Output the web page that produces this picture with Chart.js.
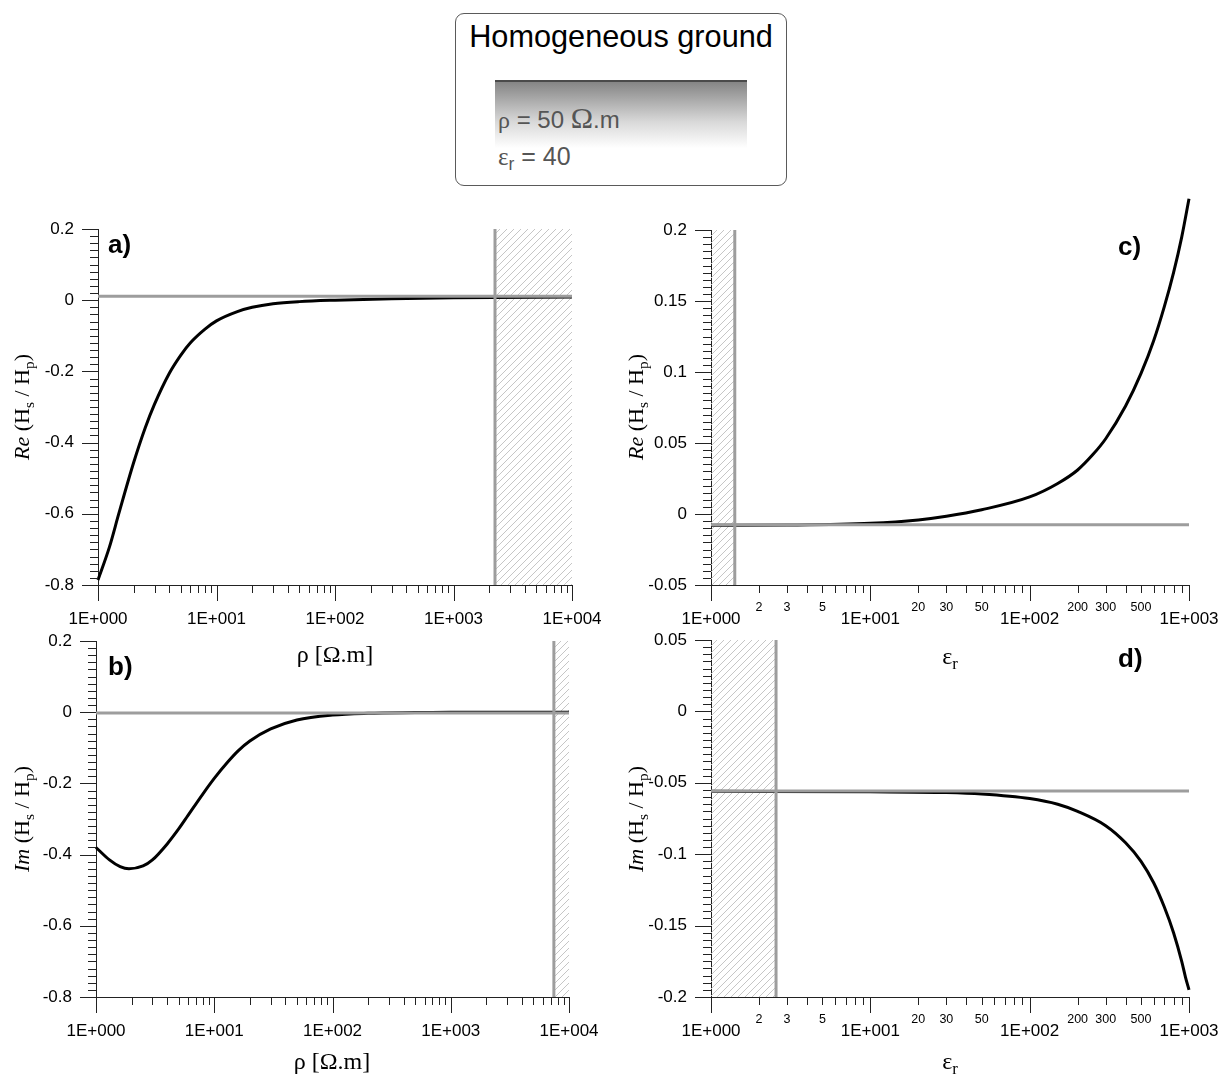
<!DOCTYPE html>
<html>
<head>
<meta charset="utf-8">
<script src="https://cdn.jsdelivr.net/npm/chart.js@4.4.1/dist/chart.umd.min.js"></script>
<style>
  body { margin: 0; width: 1218px; height: 1080px; position: relative; background: #fff; overflow: hidden; font-family: "Liberation Sans", Arial, sans-serif; }
  canvas { position: absolute; }
  #legend { position: absolute; left: 455px; top: 13px; width: 332px; height: 173px; border: 1px solid #5a5a5a; border-radius: 9px; box-sizing: border-box; }
  #legend .ttl { position: absolute; left: 0; right: 0; top: 5px; text-align: center; font-size: 30.7px; color: #000; }
  #legend .bar { position: absolute; left: 39px; top: 66px; width: 252px; height: 66px; border-top: 2px solid #4a4a4a; background: linear-gradient(#858585, #d8d8d8 60%, #fff); }
  #legend .l1 { position: absolute; left: 42px; top: 87px; font-size: 24px; color: #555; }
  #legend .l2 { position: absolute; left: 42px; top: 128px; font-size: 25px; color: #555; }
  .om { font-family: "Liberation Serif", serif; font-size: 30px; }
  .ser { font-family: "Liberation Serif", serif; }
  sub { font-size: 70%; vertical-align: -0.3em; line-height: 0; }
  .ytl { position: absolute; white-space: nowrap; transform: translate(-50%, -50%) rotate(-90deg); font-family: "Liberation Serif", serif; font-size: 22px; color: #000; }
  .xtl { position: absolute; white-space: nowrap; transform: translate(-50%, -50%); font-family: "Liberation Serif", serif; font-size: 24px; color: #000; }
  .pl { position: absolute; font-weight: bold; font-size: 26px; color: #000; transform: translateY(-50%); }
</style>
</head>
<body>

<div id="legend">
  <div class="ttl">Homogeneous ground</div>
  <div class="bar"></div>
  <div class="l1"><span class="ser">ρ</span> = 50 <span class="om">Ω</span>.m</div>
  <div class="l2"><span class="ser">ε</span><sub>r</sub> = 40</div>
</div>

<canvas id="chartA" width="610" height="480" style="left:0;top:190px"></canvas>
<canvas id="chartB" width="610" height="480" style="left:0;top:600px"></canvas>
<canvas id="chartC" width="608" height="480" style="left:610px;top:190px"></canvas>
<canvas id="chartD" width="608" height="480" style="left:610px;top:600px"></canvas>

<div class="pl" style="left:108px;top:244px">a)</div>
<div class="pl" style="left:108px;top:666px">b)</div>
<div class="pl" style="left:1118px;top:246px">c)</div>
<div class="pl" style="left:1118px;top:658px">d)</div>

<div class="ytl" style="left:22px;top:407px"><i>Re</i> (H<sub>s</sub> / H<sub>p</sub>)</div>
<div class="ytl" style="left:22px;top:819px"><i>Im</i> (H<sub>s</sub> / H<sub>p</sub>)</div>
<div class="ytl" style="left:636px;top:407px"><i>Re</i> (H<sub>s</sub> / H<sub>p</sub>)</div>
<div class="ytl" style="left:636px;top:819px"><i>Im</i> (H<sub>s</sub> / H<sub>p</sub>)</div>

<div class="xtl" style="left:335px;top:654px">ρ&nbsp;[Ω.m]</div>
<div class="xtl" style="left:332px;top:1061px">ρ&nbsp;[Ω.m]</div>
<div class="xtl" style="left:950px;top:656px">ε<sub>r</sub></div>
<div class="xtl" style="left:950px;top:1061px">ε<sub>r</sub></div>

<script>
// --- data ---
const rhoTicks = [1, 10, 100, 1000, 10000];
const epsTicks = [1, 2, 3, 5, 10, 20, 30, 50, 100, 200, 300, 500, 1000];
const reTicks = [-0.8, -0.6, -0.4, -0.2, 0, 0.2];
const reCTicks = [-0.05, 0, 0.05, 0.1, 0.15, 0.2];
const imDTicks = [-0.2, -0.15, -0.1, -0.05, 0, 0.05];

// a) Re vs rho
const rhoA = [1, 1.25, 1.5, 2, 2.5, 3, 4, 5, 6, 8, 10, 15, 20, 30, 50, 100, 300, 1000, 10000];
const reA = [-0.786, -0.693, -0.599, -0.456, -0.359, -0.292, -0.205, -0.154, -0.12, -0.081, -0.058, -0.032, -0.02, -0.01, -0.004, 0.0, 0.004, 0.007, 0.009];
const refA = 0.011, limA = 2240;

// b) Im vs rho
const rhoB = [1, 1.3, 1.6, 1.9, 2.5, 3, 4, 5, 6, 8, 10, 13, 16, 20, 30, 50, 100, 200, 500, 1000, 10000];
const imB = [-0.38, -0.415, -0.434, -0.44, -0.432, -0.415, -0.37, -0.328, -0.29, -0.23, -0.186, -0.14, -0.108, -0.081, -0.047, -0.022, -0.008, -0.003, -0.001, 0.0, 0.0];
const refB = -0.002, limB = 7450;

// c) Re vs eps_r
const epsC = [1, 3, 10, 20, 30, 50, 100, 150, 200, 250, 300, 400, 500, 600, 700, 800, 900, 1000];
const reC = [-0.008, -0.0078, -0.0066, -0.0042, -0.0016, 0.003, 0.012, 0.0215, 0.031, 0.042, 0.053, 0.076, 0.099, 0.122, 0.146, 0.17, 0.195, 0.222];
const refC = -0.0075, limC = 1.41;

// d) Im vs eps_r
const epsD = [1, 10, 30, 50, 100, 150, 200, 300, 400, 500, 600, 700, 800, 900, 950, 1000];
const imD = [-0.056, -0.0563, -0.0568, -0.0578, -0.061, -0.065, -0.07, -0.08, -0.092, -0.105, -0.12, -0.137, -0.155, -0.175, -0.186, -0.195];
const refD = -0.0558, limD = 2.56;

// --- tick marks drawn on the library scales ---
const tickMarks = {
    id: 'tickMarks',
    afterDraw(chart, args, o) {
        const ctx = chart.ctx, x = chart.scales.x, y = chart.scales.y;
        ctx.save();
        ctx.strokeStyle = '#222';
        ctx.lineWidth = 1;
        ctx.beginPath();
        for (let e = 0; Math.pow(10, e) <= x.max * 1.0001; e++) {
            for (let m = 1; m <= 9; m++) {
                const v = m * Math.pow(10, e);
                if (v > x.max * 1.0001) break;
                const px = Math.round(x.getPixelForValue(v)) + 0.5;
                ctx.moveTo(px, x.top);
                ctx.lineTo(px, x.top + (m === 1 ? 16 : 8));
            }
        }
        const n = Math.round((y.max - y.min) / o.minor);
        for (let i = 0; i <= n; i++) {
            const py = Math.round(y.getPixelForValue(y.min + i * o.minor)) + 0.5;
            ctx.moveTo(y.right, py);
            ctx.lineTo(y.right - (i % o.per === 0 ? 16 : 8), py);
        }
        ctx.stroke();
        ctx.restore();
    }
};

function hatchPattern(ctx) {
    const c = document.createElement('canvas');
    c.width = 7; c.height = 7;
    const g = c.getContext('2d');
    g.strokeStyle = '#c6c6c6';
    g.lineWidth = 1;
    g.beginPath();
    g.moveTo(0, 7); g.lineTo(7, 0);
    g.moveTo(-1, 1); g.lineTo(1, -1);
    g.moveTo(6, 8); g.lineTo(8, 6);
    g.stroke();
    return ctx.createPattern(c, 'repeat');
}

const isDecade = v => Math.abs(Math.log10(v) - Math.round(Math.log10(v))) < 1e-9;

function build(id, s) {
    const ctx = document.getElementById(id).getContext('2d');
    const grey = '#9d9d9d';
    const hatchPts = s.hatchLeft
        ? [{ x: s.xMin, y: s.yMax }, { x: s.lim, y: s.yMax }]
        : [{ x: s.lim, y: s.yMax }, { x: s.xMax, y: s.yMax }];
    return new Chart(ctx, {
        type: 'line',
        data: {
            datasets: [
                { data: [{ x: s.xMin, y: s.ref }, { x: s.xMax, y: s.ref }], borderColor: grey, borderWidth: 3, pointRadius: 0, clip: false },
                { data: [{ x: s.lim, y: s.yMin }, { x: s.lim, y: s.yMax }], borderColor: grey, borderWidth: 3, pointRadius: 0, clip: false },
                { data: s.xs.map((v, i) => ({ x: v, y: s.ys[i] })), borderColor: '#000', borderWidth: 3, pointRadius: 0, cubicInterpolationMode: 'monotone', clip: false },
                { data: hatchPts, borderColor: 'transparent', borderWidth: 0, pointRadius: 0, fill: 'start', backgroundColor: hatchPattern(ctx) }
            ]
        },
        options: {
            responsive: false,
            animation: false,
            events: [],
            layout: { padding: { top: s.padTop, right: s.padRight, left: 0, bottom: 0 } },
            plugins: { legend: { display: false }, tooltip: { enabled: false }, tickMarks: { minor: s.minor, per: s.per } },
            scales: {
                x: {
                    type: 'logarithmic',
                    min: s.xMin, max: s.xMax,
                    afterBuildTicks: sc => { sc.ticks = s.xTicks.map(v => ({ value: v, major: isDecade(v) })); },
                    afterFit: sc => { sc.height = s.xH; sc.paddingLeft = 0; sc.paddingRight = 0; },
                    grid: { drawOnChartArea: false, color: 'transparent', tickLength: 8 },
                    border: { display: true, color: '#222', width: 1 },
                    ticks: {
                        autoSkip: false, maxRotation: 0, padding: 2, color: '#000',
                        callback: v => isDecade(v) ? '1E+' + String(Math.round(Math.log10(v))).padStart(3, '0') : String(v),
                        font: c => isDecade(c.tick.value)
                            ? { family: '"Liberation Sans", Arial, sans-serif', size: 17, lineHeight: '48px' }
                            : { family: '"Liberation Sans", Arial, sans-serif', size: 12.5, lineHeight: '26px' }
                    }
                },
                y: {
                    type: 'linear',
                    min: s.yMin, max: s.yMax,
                    afterBuildTicks: sc => { sc.ticks = s.yTicks.map(v => ({ value: v })); },
                    afterFit: sc => { sc.width = s.yW; sc.paddingTop = 0; sc.paddingBottom = 0; },
                    grid: { drawOnChartArea: false, color: 'transparent', tickLength: 16 },
                    border: { display: true, color: '#222', width: 1 },
                    ticks: {
                        padding: 8, color: '#000',
                        font: { family: '"Liberation Sans", Arial, sans-serif', size: 17 },
                        callback: v => String(+v.toFixed(3))
                    }
                }
            }
        },
        plugins: [tickMarks]
    });
}

build('chartA', { xs: rhoA, ys: reA, ref: refA, lim: limA, hatchLeft: false, xMin: 1, xMax: 10000, yMin: -0.8, yMax: 0.2,
    xTicks: rhoTicks, yTicks: reTicks, minor: 0.02, per: 10, padTop: 39, padRight: 38, yW: 98, xH: 85 });
build('chartB', { xs: rhoB, ys: imB, ref: refB, lim: limB, hatchLeft: false, xMin: 1, xMax: 10000, yMin: -0.8, yMax: 0.2,
    xTicks: rhoTicks, yTicks: reTicks, minor: 0.02, per: 10, padTop: 41, padRight: 41, yW: 96, xH: 83 });
build('chartC', { xs: epsC, ys: reC, ref: refC, lim: limC, hatchLeft: true, xMin: 1, xMax: 1000, yMin: -0.05, yMax: 0.2,
    xTicks: epsTicks, yTicks: reCTicks, minor: 0.005, per: 10, padTop: 40, padRight: 29, yW: 101, xH: 85 });
build('chartD', { xs: epsD, ys: imD, ref: refD, lim: limD, hatchLeft: true, xMin: 1, xMax: 1000, yMin: -0.2, yMax: 0.05,
    xTicks: epsTicks, yTicks: imDTicks, minor: 0.005, per: 10, padTop: 40, padRight: 29, yW: 101, xH: 83 });
</script>
</body>
</html>
